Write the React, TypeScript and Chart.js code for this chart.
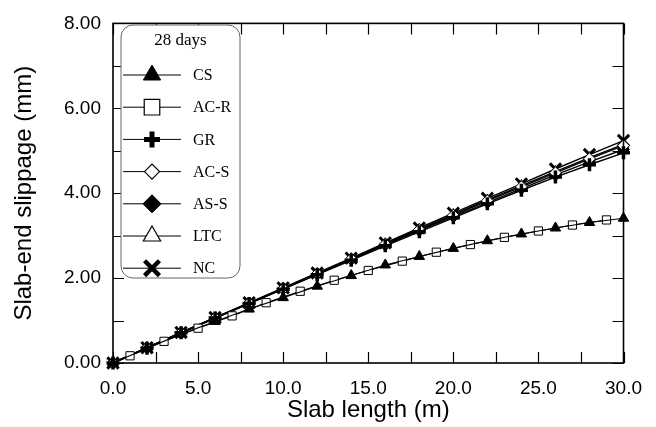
import React, { useEffect, useRef } from 'react';
import { Chart, registerables } from 'chart.js';
import { drawPoint } from 'chart.js/helpers';

Chart.register(...registerables);

// ---- data ----
const xEven = [0, 2, 4, 6, 8, 10, 12, 14, 16, 18, 20, 22, 24, 26, 28, 30];
const xOdd = [1, 3, 5, 7, 9, 11, 13, 15, 17, 19, 21, 23, 25, 27, 29];

const csValues = [0, 0.35, 0.68, 0.98, 1.27, 1.54, 1.81, 2.06, 2.31, 2.51, 2.70, 2.88, 3.04, 3.18, 3.31, 3.41];
const acrValues = [0.17, 0.51, 0.82, 1.11, 1.42, 1.69, 1.95, 2.18, 2.40, 2.61, 2.79, 2.96, 3.11, 3.25, 3.37];
const grValues = [0, 0.35, 0.71, 1.06, 1.40, 1.74, 2.08, 2.42, 2.76, 3.09, 3.42, 3.75, 4.07, 4.38, 4.67, 4.95];
const acsValues = [0, 0.36, 0.71, 1.06, 1.41, 1.75, 2.10, 2.45, 2.80, 3.14, 3.48, 3.82, 4.15, 4.48, 4.81, 5.12];
const assValues = [0, 0.36, 0.71, 1.06, 1.40, 1.75, 2.09, 2.44, 2.78, 3.12, 3.45, 3.78, 4.11, 4.43, 4.74, 5.03];
const ltcValues = [0, 0.36, 0.72, 1.07, 1.41, 1.76, 2.11, 2.46, 2.81, 3.15, 3.50, 3.84, 4.18, 4.51, 4.84, 5.15];
const ncValues = [0, 0.36, 0.72, 1.07, 1.42, 1.77, 2.12, 2.47, 2.83, 3.18, 3.53, 3.88, 4.22, 4.57, 4.91, 5.24];

const seriesLabels = ['CS', 'AC-R', 'GR', 'AC-S', 'AS-S', 'LTC', 'NC'];
const legendTitle = '28 days';
const xTitle = 'Slab length (m)';
const yTitle = 'Slab-end slippage (mm)';

const AX_FONT = "'Liberation Sans', Arial, sans-serif";
const SERIF = "'Liberation Serif', 'Times New Roman', serif";

const pts = (xs: number[], ys: number[]) => xs.map((x, i) => ({ x, y: ys[i] }));

type Sty = { style: string; r: number; lr: number; fill: string; bw: number; lbw: number; lw: number };
const styles: Sty[] = [
  { style: 'triangle', r: 6, lr: 10, fill: '#000', bw: 1, lbw: 1, lw: 1.1 },
  { style: 'rect', r: 5.8, lr: 11, fill: '#fff', bw: 1, lbw: 1.2, lw: 1.1 },
  { style: 'cross', r: 6.5, lr: 8, fill: '#000', bw: 3.5, lbw: 5, lw: 1.4 },
  { style: 'rectRot', r: 6, lr: 7.5, fill: '#fff', bw: 1, lbw: 1.2, lw: 1.4 },
  { style: 'rectRot', r: 6, lr: 9, fill: '#000', bw: 1, lbw: 1, lw: 1.4 },
  { style: 'triangle', r: 6, lr: 10, fill: '#fff', bw: 1, lbw: 1.2, lw: 1.4 },
  { style: 'crossRot', r: 8, lr: 10.5, fill: '#000', bw: 3, lbw: 4.5, lw: 1.4 },
];

const seriesData = [
  pts(xEven, csValues),
  pts(xOdd, acrValues),
  pts(xEven, grValues),
  pts(xEven, acsValues),
  pts(xEven, assValues),
  pts(xEven, ltcValues),
  pts(xEven, ncValues),
];

const framePlugin = {
  id: 'frameTicks',
  afterDatasetsDraw(chart: any) {
    const { ctx, chartArea: a, scales } = chart;
    const xs = scales.x;
    const ys = scales.y;
    ctx.save();
    ctx.strokeStyle = '#000';
    ctx.lineWidth = 1.2;
    const tl = 11;
    ctx.beginPath();
    for (let v = 0; v <= 30.001; v += 2.5) {
      const px = Math.round(xs.getPixelForValue(v)) + 0.5;
      ctx.moveTo(px, a.bottom);
      ctx.lineTo(px, a.bottom - tl);
      ctx.moveTo(px, a.top);
      ctx.lineTo(px, a.top + tl);
    }
    for (let v = 0; v <= 8.001; v += 1) {
      const py = Math.round(ys.getPixelForValue(v)) + 0.5;
      ctx.moveTo(a.left, py);
      ctx.lineTo(a.left + tl, py);
      ctx.moveTo(a.right, py);
      ctx.lineTo(a.right - tl, py);
    }
    ctx.stroke();
    ctx.lineWidth = 1.6;
    ctx.strokeRect(a.left, a.top, a.right - a.left, a.bottom - a.top);
    ctx.restore();
  },
};

const legendPlugin = {
  id: 'boxLegend',
  afterDraw(chart: any) {
    const { ctx } = chart;
    const bx = 121, by = 25, bw = 119, bh = 253, rad = 12;
    ctx.save();
    ctx.beginPath();
    ctx.moveTo(bx + rad, by);
    ctx.lineTo(bx + bw - rad, by);
    ctx.arcTo(bx + bw, by, bx + bw, by + rad, rad);
    ctx.lineTo(bx + bw, by + bh - rad);
    ctx.arcTo(bx + bw, by + bh, bx + bw - rad, by + bh, rad);
    ctx.lineTo(bx + rad, by + bh);
    ctx.arcTo(bx, by + bh, bx, by + bh - rad, rad);
    ctx.lineTo(bx, by + rad);
    ctx.arcTo(bx, by, bx + rad, by, rad);
    ctx.closePath();
    ctx.fillStyle = '#fff';
    ctx.fill();
    ctx.strokeStyle = '#666';
    ctx.lineWidth = 1;
    ctx.stroke();

    ctx.fillStyle = '#000';
    ctx.font = `17px ${SERIF}`;
    ctx.textAlign = 'center';
    ctx.textBaseline = 'middle';
    ctx.fillText(legendTitle, bx + bw / 2, 41);

    chart.data.datasets.forEach((ds: any, i: number) => {
      const y = 75 + 32.2 * i;
      const s = styles[i];
      ctx.strokeStyle = '#000';
      ctx.lineWidth = 1;
      ctx.beginPath();
      ctx.moveTo(123, y);
      ctx.lineTo(181, y);
      ctx.stroke();
      ctx.fillStyle = s.fill;
      ctx.strokeStyle = '#000';
      ctx.lineWidth = s.lbw;
      drawPoint(ctx, { pointStyle: s.style as any, rotation: 0, radius: s.lr, borderWidth: s.lbw }, 152, y);
      ctx.fillStyle = '#000';
      ctx.font = `16px ${SERIF}`;
      ctx.textAlign = 'left';
      ctx.textBaseline = 'middle';
      ctx.fillText(ds.label, 193, y + 1);
    });
    ctx.restore();
  },
};

export default function App() {
  const ref = useRef<HTMLCanvasElement | null>(null);
  useEffect(() => {
    if (!ref.current) return;
    const chart = new Chart(ref.current, {
      type: 'line',
      data: {
        datasets: seriesLabels.map((label, i) => ({
          label,
          data: seriesData[i],
          borderColor: '#000',
          borderWidth: styles[i].lw,
          backgroundColor: styles[i].fill,
          pointStyle: styles[i].style as any,
          pointRadius: styles[i].r,
          pointBackgroundColor: styles[i].fill,
          pointBorderColor: '#000',
          pointBorderWidth: styles[i].bw,
          tension: 0,
          fill: false,
          clip: false as any,
        })),
      },
      options: {
        animation: false,
        responsive: false,
        layout: { padding: { top: 18, right: 24, left: 0, bottom: 0 } },
        plugins: { legend: { display: false }, tooltip: { enabled: false } },
        scales: {
          x: {
            type: 'linear',
            min: 0,
            max: 30,
            position: 'bottom',
            grid: { display: false, drawTicks: false },
            border: { display: false },
            ticks: {
              stepSize: 5,
              autoSkip: false,
              maxRotation: 0,
              padding: 14,
              color: '#000',
              font: { family: AX_FONT, size: 19 },
              callback: (v: any) => Number(v).toFixed(1),
            },
            title: {
              display: true,
              text: xTitle,
              color: '#000',
              font: { family: AX_FONT, size: 24, lineHeight: 1.2 },
              padding: { top: 0, bottom: 2 },
            },
            afterFit: (s: any) => { s.height = 64; },
          },
          y: {
            type: 'linear',
            min: 0,
            max: 8,
            position: 'left',
            grid: { display: false, drawTicks: false },
            border: { display: false },
            ticks: {
              stepSize: 2,
              padding: 12,
              color: '#000',
              font: { family: AX_FONT, size: 19 },
              callback: (v: any) => Number(v).toFixed(2),
            },
            title: {
              display: true,
              text: yTitle,
              color: '#000',
              font: { family: AX_FONT, size: 24, lineHeight: 1.2 },
              padding: { top: 10, bottom: 0 },
            },
            afterFit: (s: any) => { s.width = 113; },
          },
        },
      },
      plugins: [framePlugin, legendPlugin],
    });
    return () => chart.destroy();
  }, []);
  return (
    <div style={{ position: 'fixed', left: 0, top: 0, width: 656, height: 427, background: '#fff' }}>
      <canvas ref={ref} width={656} height={427} />
    </div>
  );
}
